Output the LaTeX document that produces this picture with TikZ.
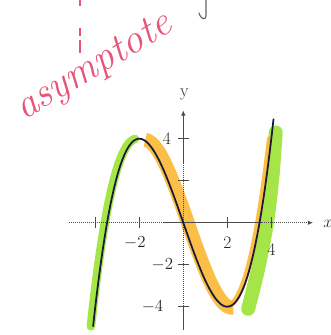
\documentclass[tikz,border=0pt]{standalone}
\usepackage{xcolor}
\usepackage{tikz}
\usetikzlibrary{arrows.meta}

\definecolor{hlgreen}{RGB}{150,225,40}
\definecolor{hlorange}{RGB}{250,180,40}
\definecolor{penpink}{RGB}{232,84,118}
\definecolor{inkblue}{RGB}{25,25,60}

\begin{document}
\begin{tikzpicture}[
  x=0.03cm, y=-0.03cm,
  hl/.style={line width=#1, line cap=round, opacity=0.85},
  curve/.style={draw=inkblue, line width=1.5pt, line cap=round},
  axis/.style={draw=black!70, line width=0.9pt, dash pattern=on 1.2pt off 0.5pt,
               -{Latex[length=1.6mm, width=1.4mm]}},
  tick/.style={draw=black!70, line width=0.8pt},
  lbl/.style={font=\fontsize{15}{18}\selectfont, text=black!85, inner sep=1pt},
  pen/.style={font=\fontsize{35}{40}\selectfont\itshape, text=penpink, inner sep=0pt}]

  \useasboundingbox (0,0) rectangle (330,335);

  % handwritten note above the graph
  \draw[penpink, line width=1.2pt] (80,0) -- (80,6) (80,28) -- (80,36) (80,40) -- (80,53);
  \node[pen, rotate=31] (note) at (95,68) {asymptote};
  \draw[black!60, line width=1pt, line cap=round] (206,0) -- (206,16) .. controls (206,20) and (201,20) .. (199,13);

  \begin{scope}[shift={(183.3,222.7)}, x=0.66cm, y=0.63cm]
    % highlighter marks
    \draw[hl=0.26cm, hlgreen] plot[domain=-4.1:-2.1, samples=30, smooth]
      ({\x-0.1}, {\x*\x*\x/4-3*\x});
    \draw[hl=0.42cm, hlorange, line cap=butt] plot[domain=-1.95:2.05, samples=40, smooth]
      ({\x+0.22}, {\x*\x*\x/4-3*\x-0.05});
    \draw[hl=0.42cm, hlgreen] plot[smooth] coordinates
      {(2.95,-4.1) (3.4,-2.2) (3.8,0) (4.05,2.2) (4.2,4.3)};
    \draw[hl=0.16cm, hlorange] plot[domain=2.2:4.0, samples=30, smooth]
      ({\x-0.08}, {\x*\x*\x/4-3*\x});

    % axes
    \draw[axis] (-5.2,0) -- (5.9,0);
    \draw[axis] (0,-5.1) -- (0,5.35);
    \foreach \t in {-4,-2,2,4} {
      \draw[tick] (\t,-0.25) -- (\t,0.25);
      \draw[tick] (-0.25,\t) -- (0.25,\t);
    }
    \node[lbl] (xm2) at (-2.2,-0.95) {$-2$};
    \node[lbl] (x2) at (2.0,-0.95) {2};
    \node[lbl] (x4) at (4.0,-1.3) {4};
    \node[lbl] (y4) at (-0.75,4.0) {4};
    \node[lbl] (ym2) at (-0.95,-2.0) {$-2$};
    \node[lbl] (ym4) at (-1.4,-4.0) {$-4$};
    \node[lbl] (ylab) at (0.05,6.1) {y};
    \node[lbl, anchor=west] (xlab) at (6.3,-0.05) {$x$};

    % the cubic
    \draw[curve] plot[domain=-4.1:4.1, samples=90, smooth]
      (\x, {\x*\x*\x/4-3*\x});
  \end{scope}
\end{tikzpicture}
\end{document}
